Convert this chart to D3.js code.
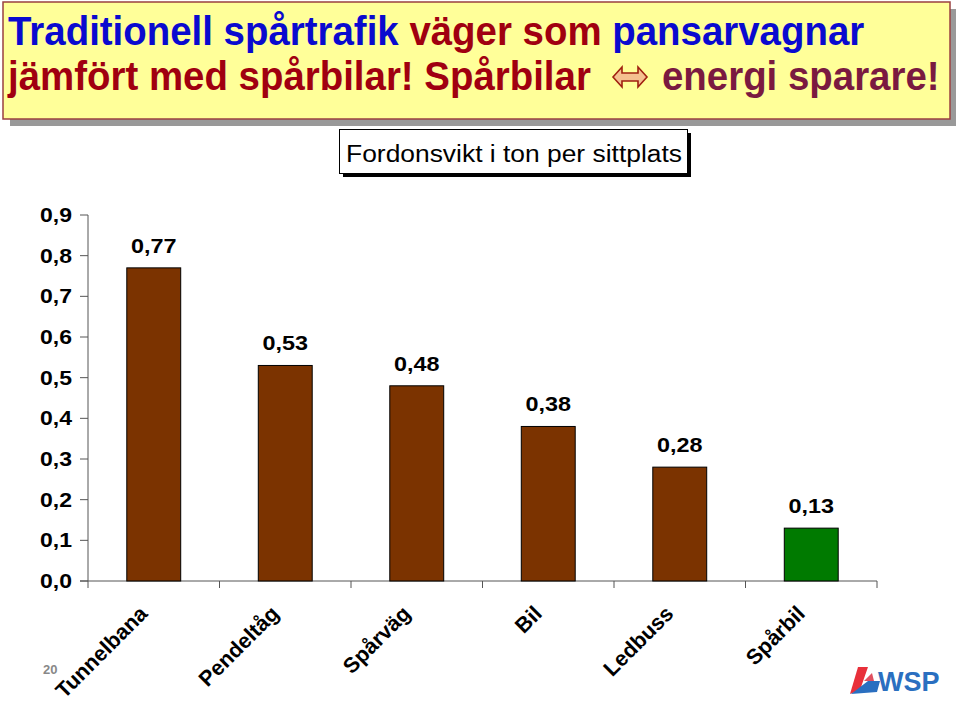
<!DOCTYPE html>
<html><head><meta charset="utf-8">
<script src="https://cdn.jsdelivr.net/npm/d3@7"></script>
<style>body{margin:0;background:#fff}svg{display:block}</style>
</head><body>
<script>
const categories = ["Tunnelbana","Pendeltåg","Spårväg","Bil","Ledbuss","Spårbil"];
const values = [0.77,0.53,0.48,0.38,0.28,0.13];
const barColors = ["#7B3300","#7B3300","#7B3300","#7B3300","#7B3300","#007A00"];
const yTicks = [0,0.1,0.2,0.3,0.4,0.5,0.6,0.7,0.8,0.9];
const titleLine1 = [["Traditionell spårtrafik ","#0A0ACF"],["väger som ","#A00010"],["pansarvagnar","#0A0ACF"]];
const titleLine2 = [["jämfört med spårbilar! Spårbilar ","#A00010"]];
const titleLine2b = [["energi sparare!","#7A1A40"]];
const subtitle = "Fordonsvikt i ton per sittplats";
const fmt = v => v.toFixed(2).replace(".", ",");
const fmt1 = v => v.toFixed(1).replace(".", ",");

const W=960,H=704;
const svg=d3.select("body").append("svg").attr("width",W).attr("height",H);
const F="Arial, 'Liberation Sans', Helvetica, sans-serif";

// title box
svg.append("rect").attr("x",10).attr("y",9).attr("width",946).attr("height",117).attr("fill","#999");
svg.append("rect").attr("x",3).attr("y",2).attr("width",947).attr("height",117).attr("fill","#FFFF99").attr("stroke","#9A4040").attr("stroke-width",1.5);
const t1=svg.append("text").attr("transform","translate(8,45) scale(1.05,1.1)").attr("font-family",F).attr("font-weight","bold").attr("font-size",36.6);
titleLine1.forEach(([s,c])=>t1.append("tspan").attr("fill",c).text(s));
const t2=svg.append("text").attr("transform","translate(8,90) scale(1.05,1.1)").attr("font-family",F).attr("font-weight","bold").attr("font-size",36.6);
titleLine2.forEach(([s,c])=>t2.append("tspan").attr("fill",c).text(s));
// double arrow
const ax=630, ay=77;
svg.append("path").attr("d",`M${ax-17},${ay} L${ax-8},${ay-10} L${ax-8},${ay-4} L${ax+8},${ay-4} L${ax+8},${ay-10} L${ax+17},${ay} L${ax+8},${ay+10} L${ax+8},${ay+4} L${ax-8},${ay+4} L${ax-8},${ay+10} Z`)
  .attr("fill","#F5C090").attr("stroke","#A02010").attr("stroke-width",1.6);
const t3=svg.append("text").attr("transform","translate(662,90) scale(1.05,1.1)").attr("font-family",F).attr("font-weight","bold").attr("font-size",36.6);
titleLine2b.forEach(([s,c])=>t3.append("tspan").attr("fill",c).text(s));

// subtitle box
svg.append("rect").attr("x",343).attr("y",133).attr("width",348).attr("height",44).attr("fill","#000");
svg.append("rect").attr("x",339.5).attr("y",129.5).attr("width",348).attr("height",44).attr("fill","#fff").attr("stroke","#000").attr("stroke-width",1);
svg.append("text").attr("transform","translate(514,162) scale(1.2,1.05)").attr("text-anchor","middle").attr("font-family",F).attr("font-size",22).attr("fill","#000").text(subtitle);

// scales
const x=d3.scaleBand().domain(categories).range([88,877]).padding(0);
const y=d3.scaleLinear().domain([0,0.9]).range([581,215]);
const bw=x.bandwidth()*0.41;

// y axis
const g=svg.append("g");
g.append("line").attr("x1",88).attr("x2",88).attr("y1",y(0.9)).attr("y2",588).attr("stroke","#555");
yTicks.forEach(v=>{
  g.append("line").attr("x1",80).attr("x2",88).attr("y1",y(v)).attr("y2",y(v)).attr("stroke","#555");
  g.append("text").attr("transform",`translate(72,${y(v)+7}) scale(1.18,1)`).attr("text-anchor","end").attr("font-family",F).attr("font-weight","bold").attr("font-size",19.5).text(fmt1(v));
});
// x axis
g.append("line").attr("x1",80).attr("x2",877).attr("y1",581).attr("y2",581).attr("stroke","#555");
categories.forEach((c,i)=>{
  const xe=x(c)+x.bandwidth();
  g.append("line").attr("x1",xe).attr("x2",xe).attr("y1",581).attr("y2",588).attr("stroke","#555");
});

// bars
svg.selectAll("rect.bar").data(values).enter().append("rect").attr("class","bar")
  .attr("x",(d,i)=>x(categories[i])+x.bandwidth()/2-bw/2).attr("width",bw)
  .attr("y",d=>y(d)).attr("height",d=>y(0)-y(d))
  .attr("fill",(d,i)=>barColors[i]).attr("stroke","#000").attr("stroke-width",1);
svg.selectAll("text.val").data(values).enter().append("text").attr("class","val")
  .attr("transform",(d,i)=>`translate(${x(categories[i])+x.bandwidth()/2},${y(d)-15}) scale(1.2,1)`)
  .attr("text-anchor","middle").attr("font-family",F).attr("font-weight","bold").attr("font-size",19.5).text(fmt);

// category labels
categories.forEach((c,i)=>{
  const cx=x(c)+x.bandwidth()/2-5, cy=615;
  svg.append("text").attr("transform",`translate(${cx},${cy}) rotate(-45)`).attr("text-anchor","end")
    .attr("font-family",F).attr("font-weight","bold").attr("font-size",21.5).text(c);
});

// page number
svg.append("text").attr("x",43).attr("y",674).attr("font-family",F).attr("font-weight","bold").attr("font-size",13).attr("fill","#888").text("20");

// WSP logo
const lg=svg.append("g");
lg.append("path").attr("d","M858,667 L868,667 L860,690 L850,694 Z").attr("fill","#E8303A");
lg.append("path").attr("d","M851,694 L868,681 L880,681 L877,692 Z").attr("fill","#2A6FC0");
lg.append("path").attr("d","M864,681 L872,673 L874,681 Z").attr("fill","#E05060");
lg.append("text").attr("x",878).attr("y",691).attr("font-family",F).attr("font-weight","bold").attr("font-size",27).attr("fill","#2A6FC0").text("WSP");
</script>
</body></html>
